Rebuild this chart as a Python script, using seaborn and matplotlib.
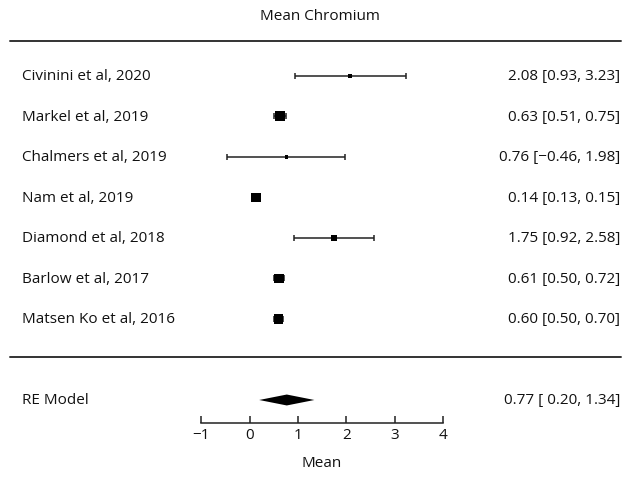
import matplotlib
matplotlib.use("Agg")
import matplotlib.pyplot as plt
import seaborn as sns
import pandas as pd

# Study-level estimates of mean chromium with 95% CIs
studies = ["Civinini et al, 2020", "Markel et al, 2019", "Chalmers et al, 2019",
           "Nam et al, 2019", "Diamond et al, 2018", "Barlow et al, 2017",
           "Matsen Ko et al, 2016"]
means = [2.08, 0.63, 0.76, 0.14, 1.75, 0.61, 0.60]
ci_low = [0.93, 0.51, -0.46, 0.13, 0.92, 0.50, 0.50]
ci_high = [3.23, 0.75, 1.98, 0.15, 2.58, 0.72, 0.70]
weights = [2.5, 22.5, 2.3, 22.0, 6.7, 22.0, 22.0]

# Random-effects pooled estimate
re_label = "RE Model"
re_mean = 0.77
re_low = 0.20
re_high = 1.34

ticks = [-1, 0, 1, 2, 3, 4]
title = "Mean Chromium"
xlabel = "Mean"

sns.set_theme(style="white")
plt.rcParams["font.family"] = ["Open Sans", "DejaVu Sans"]

df = pd.DataFrame({"study": studies, "mean": means, "lo": ci_low,
                   "hi": ci_high, "weight": weights})
df["row"] = list(range(len(studies), 0, -1))

W, H = 631, 502
fig = plt.figure(figsize=(W / 100, H / 100), dpi=100)
ax = fig.add_axes([0, 0, 1, 1])
ax.set_xlim(-5.155, 7.882)
ax.set_ylim(-3.494, 8.901)
ax.patch.set_alpha(0)

ink = "#111111"
fs = 11

# confidence intervals
ax.errorbar(df["mean"], df["row"],
            xerr=[df["mean"] - df["lo"], df["hi"] - df["mean"]],
            fmt="none", ecolor="#222222", elinewidth=1.1, capsize=2.4,
            capthick=1.1, zorder=2)

# study squares sized by weight
sns.scatterplot(data=df, x="mean", y="row", size="weight",
                sizes=(6.3, 52), marker="s", color="black",
                edgecolor="none", linewidth=0, legend=False, ax=ax, zorder=3)

# pooled diamond
re_row = -1
h = 0.135
ax.fill([re_low, re_mean, re_high, re_mean],
        [re_row, re_row + h, re_row, re_row - h],
        color="black", lw=0, zorder=3)

# separators
ax.axhline(7.86, xmin=10 / W, xmax=621 / W, color="#333333", lw=1.4)
ax.axhline(0.06, xmin=10 / W, xmax=621 / W, color="#333333", lw=1.4)

def fmt(v, pad=False):
    s = f"{v:5.2f}" if pad else f"{v:.2f}"
    return s.replace("-", "\u2212")

lx = 22 / W
rx = 620 / W
tr = ax.get_yaxis_transform()
for _, r in df.iterrows():
    ax.text(lx, r["row"], r["study"], transform=tr, ha="left", va="center",
            fontsize=fs, color=ink)
    ax.text(rx, r["row"], f"{fmt(r['mean'])} [{fmt(r['lo'])}, {fmt(r['hi'])}]",
            transform=tr, ha="right", va="center", fontsize=fs, color=ink)
ax.text(lx, re_row, re_label, transform=tr, ha="left", va="center",
        fontsize=fs, color=ink)
ax.text(rx, re_row,
        f"{fmt(re_mean)} [{fmt(re_low, True)}, {fmt(re_high)}]",
        transform=tr, ha="right", va="center", fontsize=fs, color=ink)

fig.text(320 / W, 1 - 16 / H, title, ha="center", va="center",
         fontsize=fs, color=ink)

# x axis
for s in ["top", "left", "right"]:
    ax.spines[s].set_visible(False)
ax.spines["bottom"].set_position(("data", -1.57))
ax.spines["bottom"].set_bounds(ticks[0], ticks[-1])
ax.spines["bottom"].set_color("#222222")
ax.spines["bottom"].set_linewidth(1.1)
ax.set_xticks(ticks)
ax.set_yticks([])
ax.tick_params(axis="x", direction="in", length=5, width=1.1,
               color="#222222", labelsize=fs, labelcolor=ink, pad=3,
               bottom=True)
ax.set_xlabel(xlabel, fontsize=fs, color=ink)
ax.xaxis.set_label_coords(322 / W, 1 - 464 / H)
ax.xaxis.label.set_va("center")
ax.set_ylabel("")

fig.savefig("out.png", dpi=100, facecolor="white")
